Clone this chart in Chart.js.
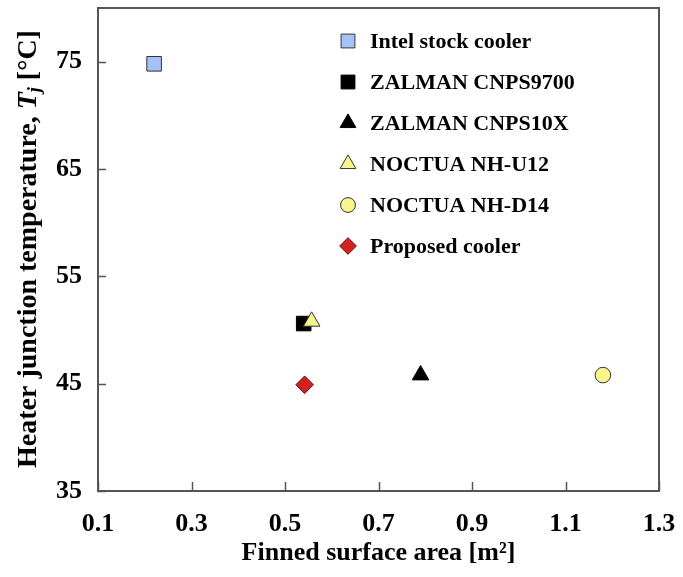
<!DOCTYPE html>
<html>
<head>
<meta charset="utf-8">
<script src="https://cdn.jsdelivr.net/npm/chart.js@4/dist/chart.umd.min.js"></script>
<style>
  html, body { margin: 0; padding: 0; background: #ffffff; }
  #wrap { width: 683px; height: 577px; }
</style>
</head>
<body>
<div id="wrap"><canvas id="c" width="683" height="577"></canvas></div>
<script>
// ---- data ----
const coolerNames = ["Intel stock cooler", "ZALMAN CNPS9700", "ZALMAN CNPS10X", "NOCTUA NH-U12", "NOCTUA NH-D14", "Proposed cooler"];
const finnedArea = [0.22, 0.54, 0.79, 0.557, 1.18, 0.542];       // m^2
const junctionTemp = [74.8, 50.6, 45.8, 50.8, 45.8, 44.9];        // degC
const xTickValues = [0.1, 0.3, 0.5, 0.7, 0.9, 1.1, 1.3];
const yTickValues = [35, 45, 55, 65, 75];

// ---- styles ----
const markerStyles = [
  { pointStyle: 'rect',     radius: 10.3, fill: '#a4c2f7', stroke: '#333333', order: 0 },
  { pointStyle: 'rect',     radius: 10.3, fill: '#000000', stroke: '#000000', order: 1 },
  { pointStyle: 'triangle', radius: 9.6,  fill: '#000000', stroke: '#000000', order: 0 },
  { pointStyle: 'triangle', radius: 9.6,  fill: '#f7f58c', stroke: '#333333', order: -1 },
  { pointStyle: 'circle',   radius: 7.8,  fill: '#f7f58c', stroke: '#333333', order: 0 },
  { pointStyle: 'rectRot',  radius: 8.8,  fill: '#d42020', stroke: '#5a1010', order: 0 }
];
const serif = "'Liberation Serif', 'Times New Roman', serif";
const frameColor = '#555555';
const plotTop = 8;
const plotRight = 659;

const datasets = coolerNames.map((name, i) => ({
  label: name,
  data: [{ x: finnedArea[i], y: junctionTemp[i] }],
  order: markerStyles[i].order,
  pointStyle: markerStyles[i].pointStyle,
  pointRadius: markerStyles[i].radius,
  pointHoverRadius: markerStyles[i].radius,
  backgroundColor: markerStyles[i].fill,
  borderColor: markerStyles[i].stroke,
  pointBorderWidth: 1,
  showLine: false
}));

// keep the plot frame where the reference has it
const areaPlugin = {
  id: 'fixArea',
  afterLayout(chart) {
    const a = chart.chartArea;
    a.top = plotTop; a.height = a.bottom - plotTop;
    a.right = plotRight; a.width = plotRight - a.left;
    const y = chart.scales.y;
    y.top = plotTop; y.height = y.bottom - plotTop;
    y.configure();
    const x = chart.scales.x;
    x.right = plotRight; x.width = plotRight - x.left;
    x.configure();
  }
};

const framePlugin = {
  id: 'frameAndTicks',
  afterDraw(chart) {
    const { ctx, chartArea: a, scales } = chart;
    ctx.save();
    ctx.strokeStyle = frameColor;
    ctx.lineWidth = 2;
    ctx.strokeRect(a.left, a.top, a.right - a.left, a.bottom - a.top);
    ctx.lineWidth = 1.5;
    ctx.beginPath();
    yTickValues.forEach(v => {
      const y = Math.round(scales.y.getPixelForValue(v)) + 0.5;
      ctx.moveTo(a.left, y); ctx.lineTo(a.left + 8, y);
    });
    xTickValues.forEach(v => {
      const x = Math.round(scales.x.getPixelForValue(v)) + 0.5;
      ctx.moveTo(x, a.bottom); ctx.lineTo(x, a.bottom - 9);
    });
    ctx.stroke();
    ctx.restore();
  }
};

const legendPlugin = {
  id: 'innerLegend',
  afterDatasetsDraw(chart) {
    const { ctx } = chart;
    ctx.save();
    ctx.font = "bold 22px " + serif;
    ctx.textBaseline = 'middle';
    ctx.textAlign = 'left';
    chart.data.datasets.forEach((ds, i) => {
      const y = 41 + i * 41;
      ctx.fillStyle = ds.backgroundColor;
      ctx.strokeStyle = ds.borderColor;
      ctx.lineWidth = 1;
      Chart.helpers.drawPoint(ctx, { pointStyle: ds.pointStyle, radius: ds.pointRadius * 0.95, rotation: 0, borderWidth: 1 }, 348, y);
      ctx.fillStyle = '#000000';
      ctx.fillText(ds.label, 370, y + 1);
    });
    ctx.restore();
  }
};

const yTitlePlugin = {
  id: 'yTitle',
  afterDraw(chart) {
    const { ctx } = chart;
    const size = 28;
    const parts = [
      { t: 'Heater junction temperature, ', f: 'bold ' + size + 'px ' + serif, dy: 0 },
      { t: 'T', f: 'italic bold ' + size + 'px ' + serif, dy: 0 },
      { t: 'j', f: 'italic bold ' + Math.round(size * 0.65) + 'px ' + serif, dy: 6 },
      { t: ' [°C]', f: 'bold ' + size + 'px ' + serif, dy: 0 }
    ];
    ctx.save();
    let total = 0;
    parts.forEach(p => { ctx.font = p.f; p.w = ctx.measureText(p.t).width; total += p.w; });
    ctx.translate(29, 249);
    ctx.rotate(-Math.PI / 2);
    ctx.fillStyle = '#000000';
    ctx.textBaseline = 'middle';
    ctx.textAlign = 'left';
    let x = -total / 2;
    parts.forEach(p => { ctx.font = p.f; ctx.fillText(p.t, x, p.dy); x += p.w; });
    ctx.restore();
  }
};

new Chart(document.getElementById('c'), {
  type: 'scatter',
  data: { datasets },
  plugins: [areaPlugin, framePlugin, legendPlugin, yTitlePlugin],
  options: {
    responsive: false,
    animation: false,
    events: [],
    layout: { padding: { top: 8, right: 24, left: 0, bottom: 0 } },
    plugins: { legend: { display: false }, tooltip: { enabled: false } },
    scales: {
      x: {
        type: 'linear', min: 0.1, max: 1.3,
        afterBuildTicks: s => { s.ticks = xTickValues.map(v => ({ value: v })); },
        afterFit: s => { s.height = 86; },
        grid: { display: false },
        border: { display: false },
        ticks: {
          color: '#000000', padding: 10, maxRotation: 0, autoSkip: false,
          font: { family: serif, size: 26, weight: 'bold' },
          callback: v => v.toFixed(1)
        },
        title: {
          display: true, text: 'Finned surface area [m²]', color: '#000000',
          font: { family: serif, size: 26, weight: 'bold', lineHeight: 1.2 },
          padding: { top: 0, bottom: 8 }
        }
      },
      y: {
        type: 'linear', min: 35, max: 80,
        afterBuildTicks: s => { s.ticks = yTickValues.map(v => ({ value: v })); },
        afterFit: s => { s.width = 98; },
        grid: { display: false },
        border: { display: false },
        ticks: {
          color: '#000000', padding: 8, autoSkip: false,
          font: { family: serif, size: 26, weight: 'bold' },
          callback: v => String(v)
        },
        title: { display: false }
      }
    }
  }
});
</script>
</body>
</html>
